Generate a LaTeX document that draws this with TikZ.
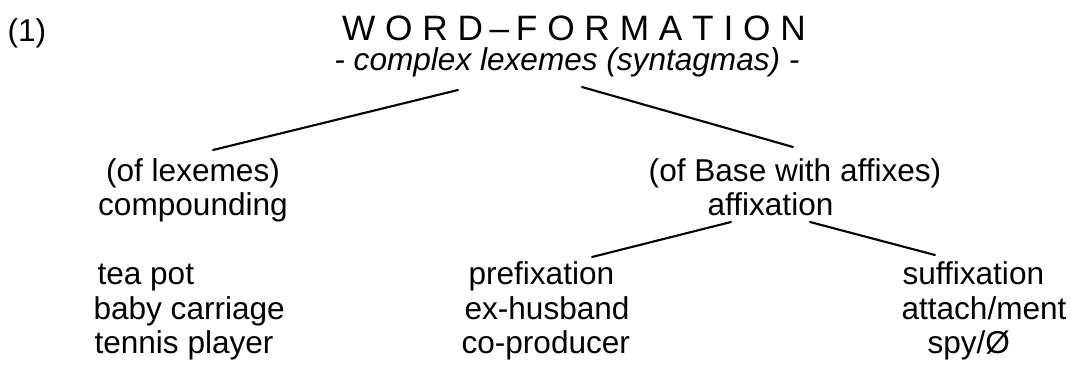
\documentclass[12pt,tikz,border=0pt]{standalone}
\usepackage{fontspec}
\setmainfont{Liberation Sans}
\begin{document}
\begin{tikzpicture}[x=0.38pt,y=-0.38pt,line cap=round,
            txt/.style={inner sep=0pt,anchor=base west},
            mid/.style={inner sep=0pt,anchor=base},
            branch/.style={line width=0.8pt}]
            \useasboundingbox (0,0) rectangle (1070,369);
            % heading
            \node[txt] (num) at (7,41) {(1)};
            \node[mid,font=\fontsize{13.4}{16}\selectfont] (title) at (574,40) {W O R D\kern2.5pt–\kern2.5pt F O R M A T I O N};
            \node[mid,font=\itshape] (sub) at (567,70) {- complex lexemes (syntagmas) -};
            % first level
            \node[mid] (lex) at (193,181) {(of lexemes)};
            \node[mid] (comp) at (193,215.5) {compounding};
            \node[mid] (base) at (795,181) {(of Base with affixes)};
            \node[mid] (affix) at (770.5,215.5) {affixation};
            % examples
            \node[txt] (comp1) at (97,284.5) {tea pot};
            \node[txt] (comp2) at (93,319) {baby carriage};
            \node[txt] (comp3) at (94,353.5) {tennis player};
            \node[txt] (pre) at (468,284.5) {prefixation};
            \node[txt] (pre1) at (464,319) {ex-husband};
            \node[txt] (pre2) at (461,353.5) {co-producer};
            \node[txt] (suf) at (902,284.5) {suffixation};
            \node[txt] (suf1) at (901,319) {attach/ment};
            \node[txt] (suf2) at (927,353.5) {spy/Ø};
            % branch ends
            \coordinate (sub-l) at (458,90); \coordinate (sub-r) at (582,87);
            \coordinate (lex-t) at (213,150); \coordinate (base-t) at (793,147);
            \coordinate (affix-l) at (731,222); \coordinate (affix-r) at (810,222);
            \coordinate (pre-t) at (592,257); \coordinate (suf-t) at (935,255);
            \draw[branch] (sub-l)--(lex-t);
            \draw[branch] (sub-r)--(base-t);
            \draw[branch] (affix-l)--(pre-t);
            \draw[branch] (affix-r)--(suf-t);
        \end{tikzpicture}
\end{document}
